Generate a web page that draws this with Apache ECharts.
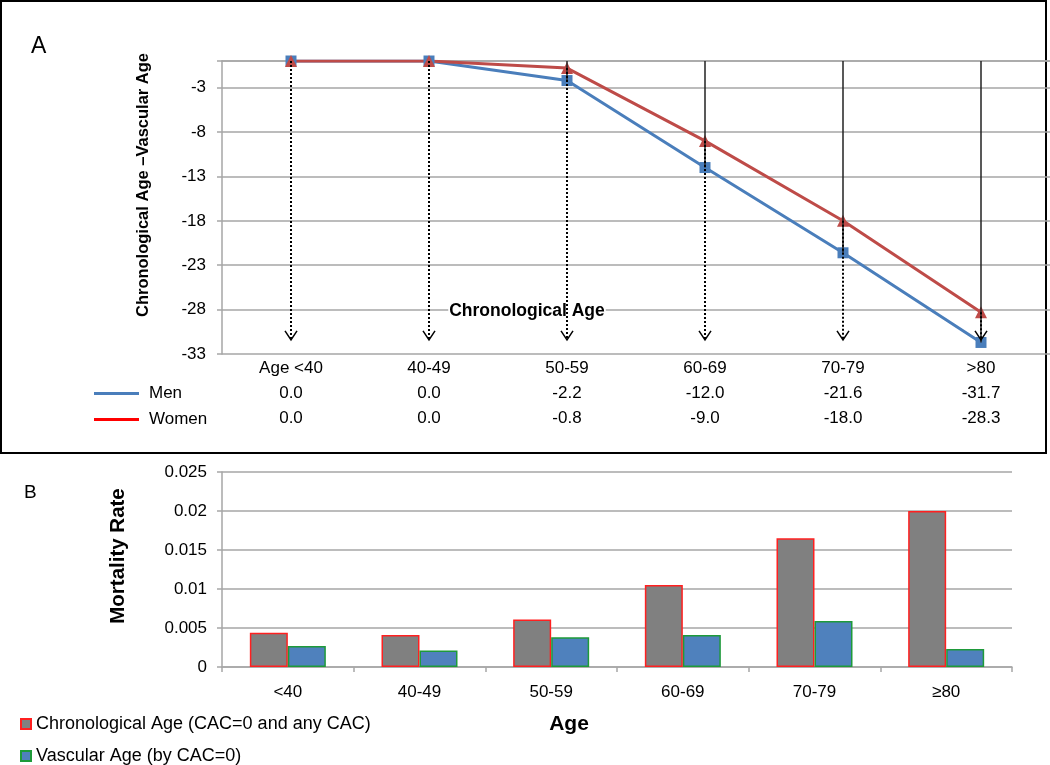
<!DOCTYPE html>
<html><head><meta charset="utf-8">
<script src="https://cdn.jsdelivr.net/npm/echarts@6/dist/echarts.min.js"></script>
<style>html,body{margin:0;padding:0;background:#fff}#c{width:1050px;height:765px}</style>
</head><body><div id="c"></div>
<script>
// ---- Panel A data ----
const ageGroupsA = ['Age <40', '40-49', '50-59', '60-69', '70-79', '>80'];
const menDiff = [0.0, 0.0, -2.2, -12.0, -21.6, -31.7];
const womenDiff = [0.0, 0.0, -0.8, -9.0, -18.0, -28.3];
// ---- Panel B data ----
const ageGroupsB = ['<40', '40-49', '50-59', '60-69', '70-79', '≥80'];
const chronoMortality = [0.0044, 0.0041, 0.0061, 0.0105, 0.0165, 0.0200];
const vascularMortality = [0.0027, 0.0021, 0.0038, 0.0041, 0.0059, 0.0023];

const FONT = '"Liberation Sans", Arial, sans-serif';
const ARROW_TIP = -31.4;
const GRID_GRAY = '#A6A6A6';

const chart = echarts.init(document.getElementById('c'), null, {renderer: 'canvas'});

const option = {
  animation: false,
  backgroundColor: '#fff',
  textStyle: {fontFamily: FONT, color: '#000'},
  grid: [
    {left: 222, right: 0, top: 61, bottom: 411},
    {left: 222, right: 38, top: 472, bottom: 98}
  ],
  xAxis: [
    {
      type: 'category', gridIndex: 0, data: ageGroupsA, boundaryGap: true,
      axisLine: {lineStyle: {color: GRID_GRAY, width: 1.5}},
      axisTick: {show: false},
      axisLabel: {
        interval: 0, margin: 2,
        formatter: function (val, idx) {
          return '{c|' + val + '}\n{v|' + menDiff[idx].toFixed(1) + '}\n{v|' + womenDiff[idx].toFixed(1) + '}';
        },
        rich: {
          c: {fontSize: 17, lineHeight: 25, fontFamily: FONT, color: '#000'},
          v: {fontSize: 17, lineHeight: 25, fontFamily: FONT, color: '#000'}
        }
      }
    },
    {
      type: 'category', gridIndex: 1, data: ageGroupsB, boundaryGap: true,
      axisLine: {lineStyle: {color: GRID_GRAY, width: 1.5}},
      axisTick: {show: true, length: 5, lineStyle: {color: GRID_GRAY, width: 1.5}},
      axisLabel: {interval: 0, margin: 17, fontSize: 17, color: '#000', fontFamily: FONT}
    }
  ],
  yAxis: [
    {
      type: 'value', gridIndex: 0, min: -33, max: 0, interval: 5,
      axisLine: {show: true, lineStyle: {color: GRID_GRAY, width: 1.5}},
      axisTick: {show: true, length: 5, lineStyle: {color: GRID_GRAY, width: 1.5}},
      splitLine: {show: true, lineStyle: {color: GRID_GRAY, width: 1.5}},
      axisLabel: {
        margin: 16, fontSize: 17, color: '#000', fontFamily: FONT,
        formatter: function (v) { return v === 0 ? '' : String(v); }
      }
    },
    {
      type: 'value', gridIndex: 1, min: 0, max: 0.025, interval: 0.005,
      axisLine: {show: true, lineStyle: {color: GRID_GRAY, width: 1.5}},
      axisTick: {show: true, length: 5, lineStyle: {color: GRID_GRAY, width: 1.5}},
      splitLine: {show: true, lineStyle: {color: GRID_GRAY, width: 1.5}},
      axisLabel: {
        margin: 15, fontSize: 17, color: '#000', fontFamily: FONT,
        formatter: function (v) { return String(+v.toFixed(3)); }
      }
    }
  ],
  legend: [
    {
      data: [
        {name: 'Men', itemStyle: {color: '#4A7EBB'}},
        {name: 'Women', itemStyle: {color: '#FF0000'}}
      ],
      orient: 'vertical', left: 94, top: 385, height: 80, padding: 0, icon: 'rect',
      itemWidth: 45, itemHeight: 3, itemGap: 9,
      textStyle: {fontSize: 17, lineHeight: 16, color: '#000', fontFamily: FONT, padding: [0, 0, 0, 5]}
    },
    {
      data: ['Chronological Age (CAC=0 and any CAC)', 'Vascular Age (by CAC=0)'],
      orient: 'vertical', left: 20, top: 715, height: 60, padding: 0, icon: 'rect',
      itemWidth: 10, itemHeight: 10, itemGap: 14,
      textStyle: {fontSize: 18, lineHeight: 18, color: '#000', fontFamily: FONT}
    }
  ],
  series: [
    {
      name: 'Men', type: 'line', xAxisIndex: 0, yAxisIndex: 0, data: menDiff,
      symbol: 'rect', symbolSize: 11,
      lineStyle: {color: '#4A7EBB', width: 3},
      itemStyle: {color: '#4A7EBB'}
    },
    {
      name: 'Women', type: 'line', xAxisIndex: 0, yAxisIndex: 0, data: womenDiff,
      symbol: 'triangle', symbolSize: 12,
      lineStyle: {color: '#BE4B48', width: 3},
      itemStyle: {color: '#BE4B48'}
    },
    {
      name: 'arrows', type: 'custom', xAxisIndex: 0, yAxisIndex: 0, z: 5,
      data: ageGroupsA.map(function (c, i) { return [i, menDiff[i], womenDiff[i]]; }),
      renderItem: function (params, api) {
        const i = api.value(0);
        const men = api.value(1), women = api.value(2);
        const top = api.coord([i, 0]);
        const pm = api.coord([i, men]);
        const pw = api.coord([i, women]);
        const tip = api.coord([i, ARROW_TIP]);
        const children = [];
        if (men < 0) {
          children.push({type: 'line', shape: {x1: top[0], y1: top[1], x2: pm[0], y2: pm[1]},
            style: {stroke: '#222', lineWidth: 1.5}});
        }
        children.push({type: 'line', shape: {x1: pw[0], y1: pw[1], x2: tip[0], y2: tip[1]},
          style: {stroke: '#000', lineWidth: 2, lineDash: [2, 2]}});
        children.push({type: 'polyline',
          shape: {points: [[tip[0] - 6, tip[1] - 9], [tip[0], tip[1]], [tip[0] + 6, tip[1] - 9]]},
          style: {stroke: '#000', lineWidth: 1.5, fill: null}});
        return {type: 'group', children: children};
      },
      silent: true
    },
    {
      name: 'Chronological Age (CAC=0 and any CAC)', type: 'bar', xAxisIndex: 1, yAxisIndex: 1,
      data: chronoMortality, barWidth: 38, barGap: '0%',
      itemStyle: {color: '#808080', borderColor: '#FF2020', borderWidth: 1.5}
    },
    {
      name: 'Vascular Age (by CAC=0)', type: 'bar', xAxisIndex: 1, yAxisIndex: 1,
      data: vascularMortality, barWidth: 38, barGap: '0%',
      itemStyle: {color: '#4F81BD', borderColor: '#1E9A3A', borderWidth: 1.5}
    }
  ],
  graphic: [
    {type: 'rect', shape: {x: 1, y: 1, width: 1045, height: 452},
      style: {stroke: '#000', lineWidth: 2, fill: null}, silent: true},
    {type: 'text', x: 31, y: 35,
      style: {text: 'A', font: '23px ' + FONT, fill: '#000'}},
    {type: 'text', x: 24, y: 483,
      style: {text: 'B', font: '19px ' + FONT, fill: '#000'}},
    {type: 'text', x: 143, y: 185, rotation: Math.PI / 2,
      style: {text: 'Chronological Age –Vascular Age', font: 'bold 16.5px ' + FONT, fill: '#000',
        textAlign: 'center', textVerticalAlign: 'middle'}},
    {type: 'text', x: 527, y: 311, z: 2,
      style: {text: 'Chronological Age', font: 'bold 17.5px ' + FONT, fill: '#000',
        backgroundColor: '#fff', padding: [1, 1, 1, 1],
        textAlign: 'center', textVerticalAlign: 'middle'}},
    {type: 'text', x: 118, y: 556, rotation: Math.PI / 2,
      style: {text: 'Mortality Rate', font: 'bold 20.5px ' + FONT, fill: '#000',
        textAlign: 'center', textVerticalAlign: 'middle'}},
    {type: 'text', x: 569, y: 724,
      style: {text: 'Age', font: 'bold 21px ' + FONT, fill: '#000',
        textAlign: 'center', textVerticalAlign: 'middle'}}
  ]
};
chart.setOption(option);
</script>
</body></html>
